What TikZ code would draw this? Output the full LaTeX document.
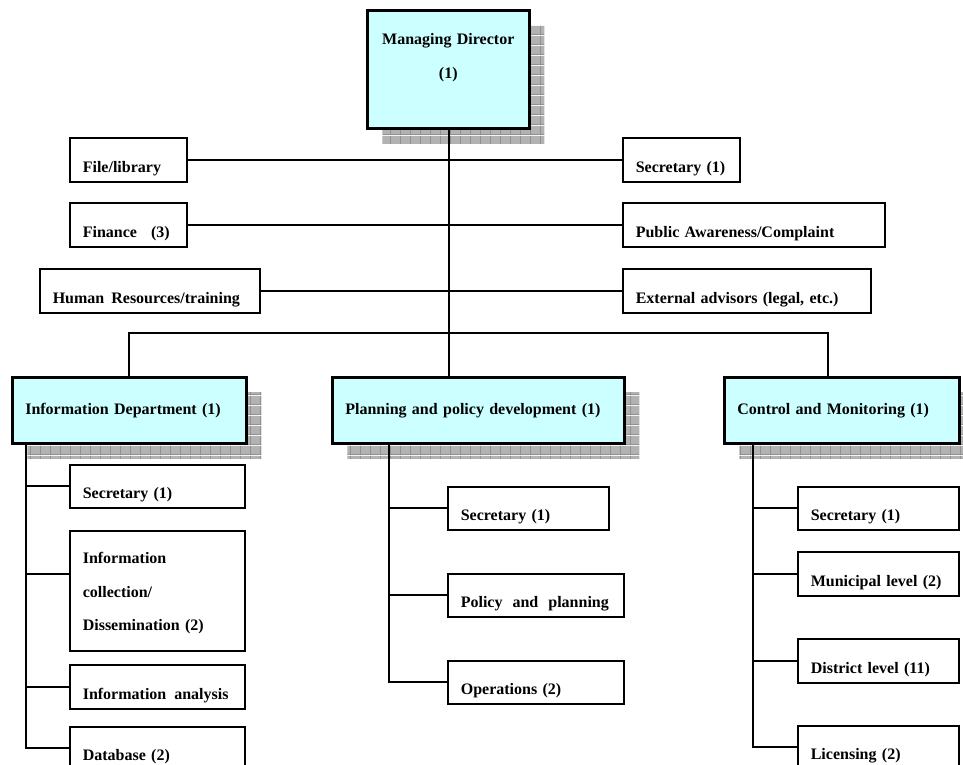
\documentclass[tikz,border=0pt]{standalone}
\usepackage{fontspec}
\setmainfont{Liberation Serif}
\usetikzlibrary{shadows,patterns.meta}
\definecolor{deptcyan}{RGB}{204,255,255}

% grey raster used under the department boxes
\pgfdeclarepattern{
  name=shadegrid,
  type=colored,
  bottom left={\pgfpoint{0pt}{0pt}},
  top right={\pgfpoint{10pt}{10pt}},
  tile size={\pgfpoint{10pt}{10pt}},
  code={
    \pgfsetfillcolor{black!30}
    \pgfpathrectangle{\pgfpointorigin}{\pgfpoint{10pt}{10pt}}
    \pgfusepath{fill}
    \pgfsetstrokecolor{black!50}
    \pgfsetlinewidth{0.8pt}
    \pgfpathmoveto{\pgfpoint{0pt}{0.4pt}}
    \pgfpathlineto{\pgfpoint{10pt}{0.4pt}}
    \pgfpathmoveto{\pgfpoint{0.4pt}{0pt}}
    \pgfpathlineto{\pgfpoint{0.4pt}{10pt}}
    \pgfusepath{stroke}
  }
}

\newcommand\orgfont{\bfseries\fontsize{16pt}{19pt}\selectfont}

\begin{document}
\begin{tikzpicture}[x=1pt, y=-1pt,
  unit/.style={rectangle, draw=black, line width=1.6pt, fill=white, anchor=north west, align=left, font=\orgfont, inner xsep=13pt, inner ysep=0pt, text height=34pt, text depth=9pt},
  dept/.style={unit, fill=deptcyan, line width=2.6pt, text height=37pt, text depth=29pt, drop shadow={shadow xshift=15pt, shadow yshift=-15pt, opacity=1, pattern=shadegrid}},
  link/.style={line width=1.8pt}]

\fill[white] (0,0) rectangle (963,765);
\useasboundingbox (0,0) rectangle (963,765);
\clip (0,0) rectangle (963,765);

% director and staff units
\node[dept, align=center, text width=136pt, text height=34pt, text depth=84pt, font={\bfseries\fontsize{16pt}{34pt}\selectfont}] (md) at (366,9) {Managing Director\\(1)};

\node[unit, text width=91pt, text height=35pt] (file) at (69,137) {File/library};

\node[unit, text width=91pt, text height=35pt] (fin) at (69,202) {Finance\hspace{14pt}(3)};

\node[unit, text width=194pt, text height=35pt] (hr) at (39,268) {Human\hspace{7pt}Resources/training};

\node[unit, text width=91pt, text height=35pt] (sec) at (622,137) {Secretary (1)};

\node[unit, text width=236pt, text height=35pt] (pub) at (622,202) {Public Awareness/Complaint};

\node[unit, text width=222pt, text height=35pt] (ext) at (622,268) {External advisors (legal, etc.)};

% departments
\node[dept, text width=208pt] (info) at (11,376) {Information Department (1)};

\node[dept, text width=266pt] (plan) at (331,376) {Planning and policy development (1)};

\node[dept, text width=209pt] (ctrl) at (723,376) {Control and Monitoring (1)};

% information department
\node[unit, text width=149pt] (isec) at (69,464) {Secretary (1)};

\node[unit, text width=149pt, text height=33pt, text depth=87pt, font={\bfseries\fontsize{16pt}{33.5pt}\selectfont}] (icol) at (69,530) {Information\\collection/\\Dissemination (2)};

\node[unit, text width=149pt, text height=35pt] (iana) at (69,664) {Information\hspace{8pt}analysis};

\node[unit, text width=149pt] (idb) at (69,726) {Database (2)};

% planning department
\node[unit, text width=135pt] (psec) at (447,486) {Secretary (1)};

\node[unit, text width=150pt] (ppol) at (447,573) {Policy\hspace{10pt}and\hspace{10pt}planning};

\node[unit, text width=150pt] (pops) at (447,660) {Operations (2)};

% control department
\node[unit, text width=135pt] (csec) at (797,486) {Secretary (1)};

\node[unit, text width=135pt, text height=35pt] (cmun) at (797,551) {Municipal level (2)};

\node[unit, text width=135pt, text height=35pt] (cdis) at (797,638) {District level (11)};

\node[unit, text width=135pt] (clic) at (797,725) {Licensing (2)};

% connections
\coordinate (bus) at (448,333);

\draw[link] ([xshift=1pt]md.south) -- ([xshift=1pt]md.south |- plan.north);

\draw[link] (file.east) -- (sec.west);

\draw[link] (fin.east) -- (pub.west);

\draw[link] (hr.east) -- (ext.west);

\draw[link] (info.north) |- (bus) -| ([xshift=-14pt]ctrl.north);

\draw[link] ([xshift=15pt]info.south west) |- (idb.west);
\draw[link] ([xshift=15pt]info.south west) |- (isec.west);
\draw[link] ([xshift=15pt]info.south west) |- ([yshift=17pt]icol.west);
\draw[link] ([xshift=15pt]info.south west) |- (iana.west);

\draw[link] ([xshift=58pt]plan.south west) |- (pops.west);
\draw[link] ([xshift=58pt]plan.south west) |- (psec.west);
\draw[link] ([xshift=58pt]plan.south west) |- (ppol.west);

\draw[link] ([xshift=30pt]ctrl.south west) |- (clic.west);
\draw[link] ([xshift=30pt]ctrl.south west) |- (csec.west);
\draw[link] ([xshift=30pt]ctrl.south west) |- (cmun.west);
\draw[link] ([xshift=30pt]ctrl.south west) |- (cdis.west);

\end{tikzpicture}
\end{document}
